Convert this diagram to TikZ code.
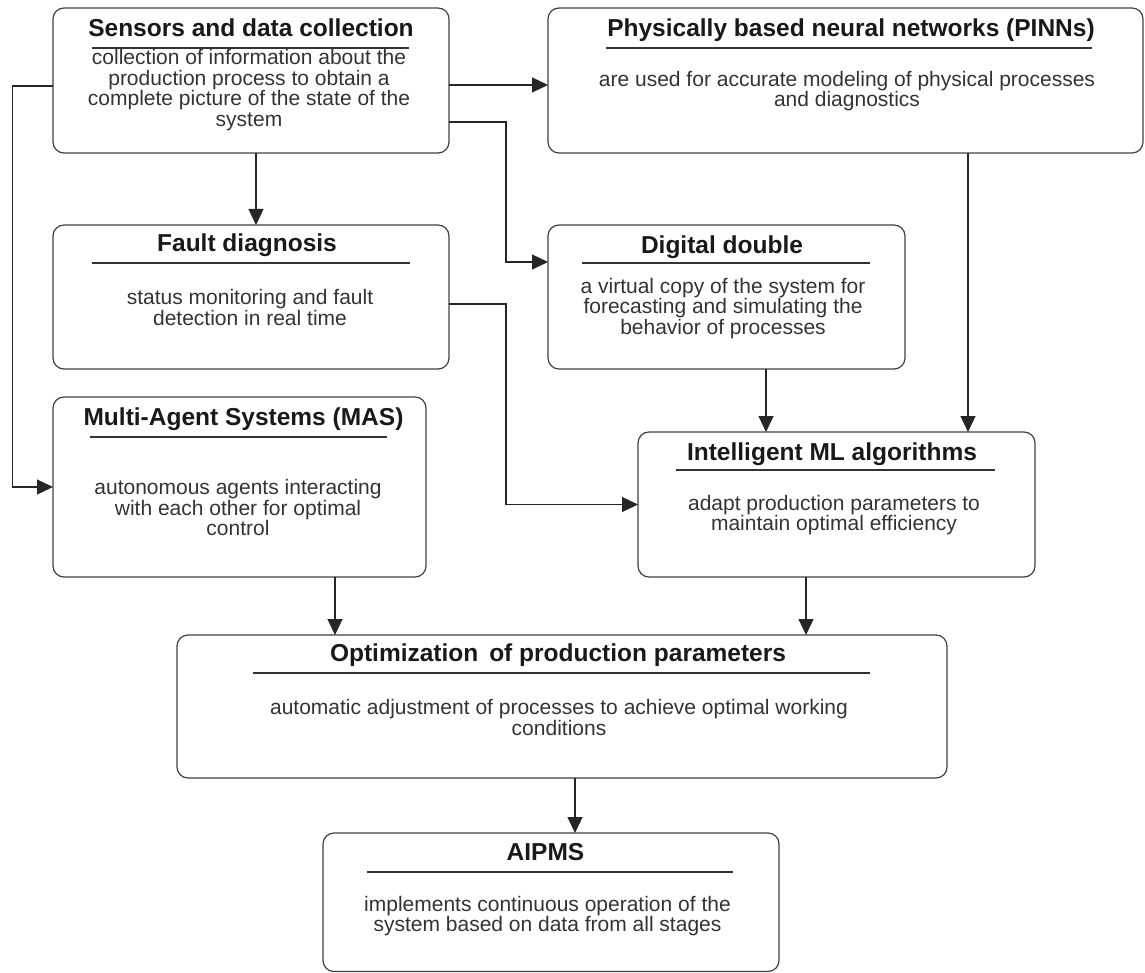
\documentclass[tikz,border=0pt]{standalone}
\usepackage{fontspec}
\setmainfont{Liberation Sans}
\usetikzlibrary{arrows.meta}
\tikzset{
  blk/.style={draw=black!75, line width=1.2pt, rounded corners=11pt, inner sep=0pt, outer sep=0pt, anchor=north west},
  ttl/.style={font=\bfseries\fontsize{24.5}{26}\selectfont, text=black!90, anchor=base, inner sep=0pt},
  txt/.style={font=\fontsize{21}{20.5}\selectfont, align=center, text=black!80, inner sep=0pt},
  rul/.style={line width=1.3pt, draw=black!80},
  arr/.style={draw=black!85, line width=1.2pt, -{Triangle[length=16pt,width=15pt]}}
}
\begin{document}
\begin{tikzpicture}[x=1pt,y=-1pt]
\useasboundingbox (0,0) rectangle (1145,973);
% boxes
\node[blk, minimum width=396pt, minimum height=145pt] (sens) at (53,8) {};
\node[blk, minimum width=595pt, minimum height=145pt] (pinn) at (548,8) {};
\node[blk, minimum width=396pt, minimum height=144pt] (fault) at (53,225) {};
\node[blk, minimum width=357pt, minimum height=144pt] (digi) at (548,225) {};
\node[blk, minimum width=373pt, minimum height=180pt] (mas) at (53,397) {};
\node[blk, minimum width=397pt, minimum height=145pt] (intel) at (638,432) {};
\node[blk, minimum width=770pt, minimum height=143pt] (opt) at (177,635) {};
\node[blk, minimum width=456pt, minimum height=138.5pt] (aipms) at (323,833) {};
% titles
\node[ttl] (sensT) at (251,36.5) {Sensors and data collection};
\node[ttl] (pinnT) at (851,36.5) {Physically based neural networks (PINNs)};
\node[ttl] (faultT) at (247,251.5) {Fault diagnosis};
\node[ttl] (digiT) at (722,253.5) {Digital double};
\node[ttl] (masT) at (243.5,425.5) {Multi-Agent Systems (MAS)};
\node[ttl] (intelT) at (832,460.5) {Intelligent ML algorithms};
\node[ttl] (optT) at (558,661.5) {Optimization\, of production parameters};
\node[ttl] (aipmsT) at (545.5,860.5) {AIPMS};
% rules under titles
\draw[rul] (92,48)--(409,48);
\draw[rul] (606,48)--(1092,48);
\draw[rul] (92,263)--(410,263);
\draw[rul] (582,263)--(870,263);
\draw[rul] (90,437)--(387,437);
\draw[rul] (676,470)--(995,470);
\draw[rul] (253,673)--(870,673);
\draw[rul] (367,872)--(733,872);
% texts
\node[txt] (sensB) at (249,90) {collection of information about the\\production process to obtain a\\complete picture of the state of the\\system};
\node[txt] (pinnB) at (847,91) {are used for accurate modeling of physical processes\\and diagnostics};
\node[txt] (faultB) at (250,307.5) {status monitoring and fault\\detection in real time};
\node[txt] (digiB) at (723,308.5) {a virtual copy of the system for\\forecasting and simulating the\\behavior of processes};
\node[txt] (masB) at (238,507.5) {autonomous agents interacting\\with each other for optimal\\control};
\node[txt] (intelB) at (834,515) {adapt production parameters to\\maintain optimal efficiency};
\node[txt] (optB) at (559,717.5) {automatic adjustment of processes to achieve optimal working\\conditions};
\node[txt] (aipmsB) at (547.5,916) {implements continuous operation of the\\system based on data from all stages};
% connectors
\coordinate (a1) at ([xshift=5pt]sens.south);
\coordinate (a2) at ([xshift=122.5pt]pinn.south);
\coordinate (a3) at ([xshift=39.5pt]digi.south);
\coordinate (a4) at ([xshift=95.5pt]mas.south);
\coordinate (a5) at ([xshift=-30.5pt]intel.south);
\coordinate (a6) at ([xshift=13pt]opt.south);
\draw[arr] ([yshift=-4.5pt]sens.east) -- ([yshift=-4.5pt]pinn.west);
\draw[arr] (a1) -- (a1 |- fault.north);
\draw[arr] ([yshift=-41.5pt]sens.east) -- ++(57,0) |- ([yshift=35pt]digi.west);
\draw[arr] ([yshift=-5.5pt]sens.west) -- ++(-40.5,0) |- (mas.west);
\draw[arr] ([yshift=-7pt]fault.east) -- ++(57,0) |- (intel.west);
\draw[arr] (a2) -- (a2 |- intel.north);
\draw[arr] (a3) -- (a3 |- intel.north);
\draw[arr] (a4) -- (a4 |- opt.north);
\draw[arr] (a5) -- (a5 |- opt.north);
\draw[arr] (a6) -- (a6 |- aipms.north);
\end{tikzpicture}
\end{document}
